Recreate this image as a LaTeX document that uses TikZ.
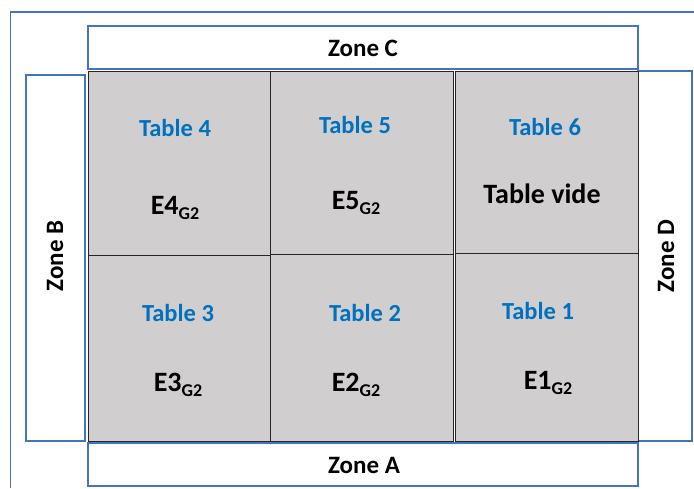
\documentclass[tikz,border=0pt]{standalone}
\usepackage{fontspec}
\setmainfont{Carlito}
\definecolor{zoneblue}{HTML}{4472C4}
\definecolor{tblue}{HTML}{0070C0}
\definecolor{tgray}{HTML}{D0CECE}
\newcommand{\gsub}[1]{\raisebox{-5pt}{\fontsize{18}{18}\selectfont #1}}
\tikzset{
  zone/.style={draw=zoneblue, line width=1.2pt, fill=white},
  tbl/.style={draw=black!85, line width=0.9pt, fill=tgray},
  zlabel/.style={font=\bfseries\fontsize{25}{28}\selectfont, text=black},
  tlabel/.style={font=\bfseries\fontsize{24.5}{28}\selectfont, text=tblue},
  elabel/.style={font=\bfseries\fontsize{28}{30}\selectfont, text=black},
}
\begin{document}
\begin{tikzpicture}[x=1pt,y=-1pt]
\useasboundingbox (0,0) rectangle (694,488);
\fill[white] (0,0) rectangle (694,488);
% outer frame (partially visible)
\draw[zoneblue, line width=1.5pt] (10.5,488) -- (10.5,12) -- (694,12);
% zones
\draw[zone] (88,26) rectangle (638,69);
\draw[zone] (26,75) rectangle (85,441);
\draw[zone] (638,71) rectangle (692,441);
\draw[zone] (88,443) rectangle (638,486);
\node[zlabel] (zc) at (363,48) {Zone C};
\node[zlabel] (za) at (364,465) {Zone A};
\node[zlabel, rotate=90] (zb) at (55,256) {Zone B};
\node[zlabel, rotate=90] (zd) at (666,256) {Zone D};
% tables
\draw[tbl] (88,71) rectangle (270,255);
\draw[tbl] (270,71) rectangle (453,254);
\draw[tbl] (455,71) rectangle (638,253);
\draw[tbl] (88,255) rectangle (270,441);
\draw[tbl] (270,254) rectangle (453,441);
\draw[tbl] (455,253) rectangle (638,441);
% labels
\node[tlabel] (t4) at (175,128) {Table 4};
\node[elabel] (e4) at (175,208) {E4\gsub{G2}};
\node[tlabel] (t5) at (355,125) {Table 5};
\node[elabel] (e5) at (356,203) {E5\gsub{G2}};
\node[tlabel] (t6) at (545,127) {Table 6};
\node[elabel] (e6) at (542,194) {Table vide};
\node[tlabel] (t3) at (178,313) {Table 3};
\node[elabel] (e3) at (178,385) {E3\gsub{G2}};
\node[tlabel] (t2) at (365,313) {Table 2};
\node[elabel] (e2) at (356,385) {E2\gsub{G2}};
\node[tlabel] (t1) at (538,311) {Table 1};
\node[elabel] (e1) at (548,383) {E1\gsub{G2}};
\end{tikzpicture}
\end{document}
